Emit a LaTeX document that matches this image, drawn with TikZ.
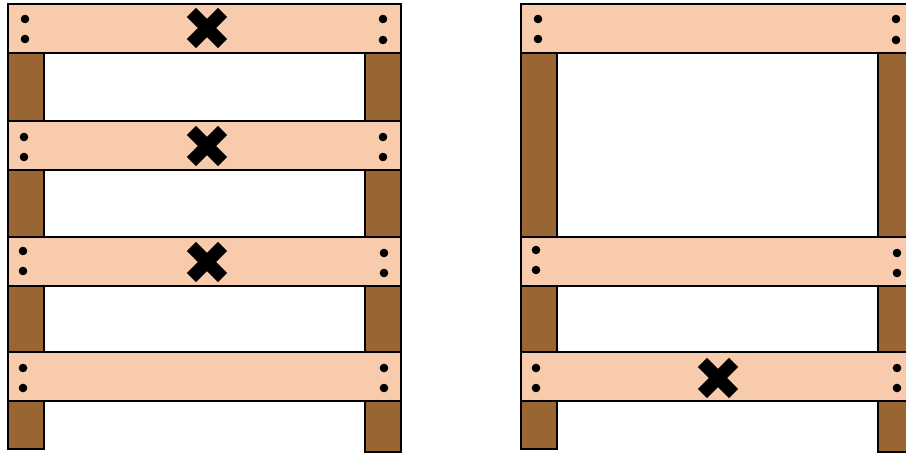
\documentclass[tikz,border=0pt]{standalone}
\definecolor{board}{RGB}{248,203,173}
\definecolor{post}{RGB}{153,102,51}
\tikzset{
  boardbox/.style={draw=black,fill=board,line width=2pt},
  postbox/.style={draw=black,fill=post,line width=2pt},
  hole/.style={fill=black},
  crossarm/.style={fill=black}
}
\newcommand{\heavycross}[2]{%
  \begin{scope}[shift={(#1,#2)}]
    \fill[black,rotate=45] (-22,-6.5) rectangle (22,6.5);
    \fill[black,rotate=-45] (-22,-6.5) rectangle (22,6.5);
  \end{scope}}
\newcommand{\holes}[3]{% x, y1, y2
  \fill (#1,#2) circle (4.3);
  \fill (#1,#3) circle (4.3);}
\begin{document}
\begin{tikzpicture}[x=1pt,y=-1pt]
\useasboundingbox (0,0) rectangle (906,454);
\clip (0,0) rectangle (906,454);
% left ladder posts
\draw[postbox] (8,53) rectangle (44,449);
\draw[postbox] (365,53) rectangle (401,452);
% left ladder boards
\foreach \t in {4,121,237,352}{
  \draw[boardbox] (8,\t) rectangle (401,\t+49);
}
\holes{25}{19}{39}
\holes{383}{19}{40}
\holes{24}{137}{157}
\holes{383}{137}{157}
\holes{23}{251}{271}
\holes{384}{253}{273}
\holes{23}{368}{388}
\holes{384}{368}{388}
\heavycross{207}{28}
\heavycross{207}{146}
\heavycross{207}{262}
% right ladder posts
\draw[postbox] (521,53) rectangle (557,449);
\draw[postbox] (878,53) rectangle (914,452);
% right ladder boards
\foreach \t in {4,237,352}{
  \draw[boardbox] (521,\t) rectangle (914,\t+49);
}
\holes{538}{19}{39}
\holes{896}{19}{40}
\holes{536}{250}{270}
\holes{897}{253}{273}
\holes{536}{368}{388}
\holes{897}{368}{388}
\heavycross{718}{378}
\end{tikzpicture}
\end{document}
